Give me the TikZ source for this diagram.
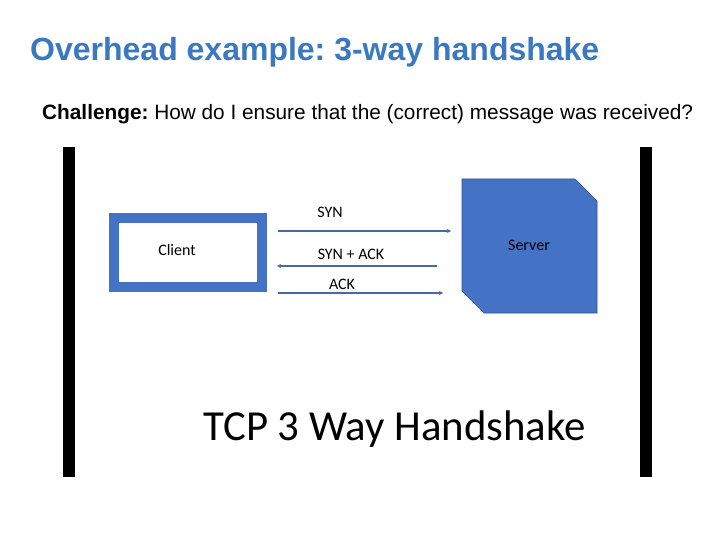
\documentclass[tikz,border=0pt]{standalone}
\usepackage{fontspec}
\setmainfont{Liberation Sans}
\newfontfamily\calibri{Carlito}
\usetikzlibrary{arrows.meta}
\definecolor{titleblue}{HTML}{3A78C0}
\definecolor{boxblue}{HTML}{4472C4}
\definecolor{edgeblue}{HTML}{2F528F}
\definecolor{arrowblue}{HTML}{4A67A8}
\tikzset{
  msg/.style={draw=arrowblue, line width=1.4pt, -{Stealth[length=4pt,width=4pt]}},
  msglabel/.style={font=\calibri\fontsize{16}{19}\selectfont, inner sep=0pt},
  sidebar/.style={fill=black, draw=none},
}
\frenchspacing
\begin{document}
\begin{tikzpicture}[x=1pt,y=-1pt]
\useasboundingbox (0,0) rectangle (720,540);
% heading and question
\node[anchor=base west, inner sep=0pt, text=titleblue, font=\bfseries\fontsize{32}{38}\selectfont] (title) at (30,61) {Overhead example: 3-way handshake};
\node[anchor=base west, inner sep=0pt, font=\fontsize{20.8}{24}\selectfont] (question) at (42,120) {\textbf{Challenge:} How do I ensure that the (correct) message was received?};
% vertical bars framing the figure
\fill[sidebar] (63,147) rectangle (75,477);
\fill[sidebar] (640,147) rectangle (652,477);
% client box
\node[draw=boxblue, line width=10pt, fill=white, minimum width=148pt, minimum height=69pt, inner sep=0pt] (client) at (187.5,252.5) {};
\node[msglabel] (clientlabel) at (177,250) {Client};
% server with cut corners
\fill[boxblue, draw=edgeblue, line width=0.6pt] (462,179) -- (575,179) -- (597,201) -- (597,313) -- (484,313) -- (462,291) -- cycle;
\node[msglabel] (server) at (529,245) {Server};
% handshake messages
\coordinate (s1a) at (278,231); \coordinate (s1b) at (451,231);
\coordinate (s2a) at (437,266); \coordinate (s2b) at (277,266);
\coordinate (s3a) at (278,293); \coordinate (s3b) at (443,293);
\draw[msg] (s1a) -- (s1b);
\draw[msg] (s2a) -- (s2b);
\draw[msg] (s3a) -- (s3b);
\node[msglabel] (l1) at (330,212) {SYN};
\node[msglabel] (l2) at (351,254) {SYN + ACK};
\node[msglabel] (l3) at (342,284) {ACK};
% caption
\node[anchor=base west, inner sep=0pt, font=\calibri\fontsize{42.8}{50}\selectfont] (caption) at (203,440) {TCP 3 Way Handshake};
\end{tikzpicture}
\end{document}
